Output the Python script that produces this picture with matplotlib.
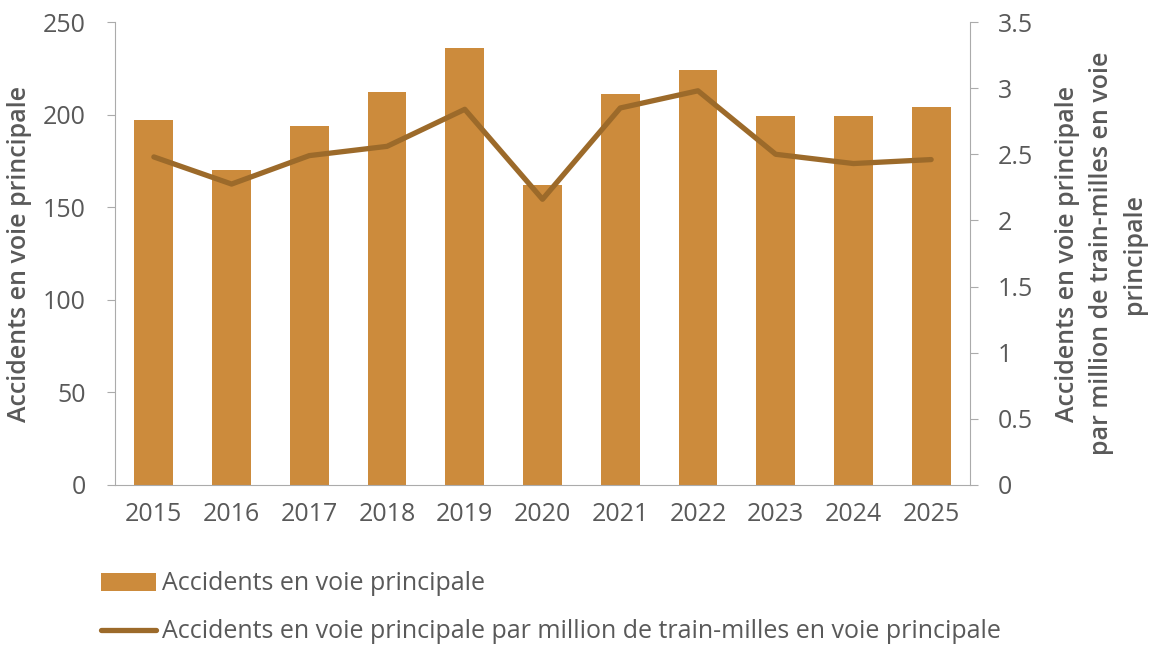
import matplotlib
matplotlib.use("Agg")
import matplotlib.pyplot as plt
from matplotlib.patches import Patch
from matplotlib.lines import Line2D

years = ["2015", "2016", "2017", "2018", "2019", "2020", "2021", "2022", "2023", "2024", "2025"]
accidents = [197, 170, 194, 212, 236, 162, 211, 224, 199, 199, 204]
rate = [2.48, 2.275, 2.49, 2.56, 2.84, 2.16, 2.85, 2.98, 2.50, 2.43, 2.46]

bar_color = "#CC8B3C"
line_color = "#9C6A2A"
text_color = "#595959"
axis_color = "#ABABAB"
fs = 18

plt.rcParams['font.family'] = ['Open Sans', 'DejaVu Sans']

fig = plt.figure(figsize=(11.53, 6.46), dpi=100)
ax = fig.add_axes([115/1153, 1 - 485/646, (970 - 115)/1153, (485 - 22)/646])
ax2 = ax.twinx()

x = list(range(len(years)))
ax.bar(x, accidents, width=0.5, color=bar_color, zorder=2)
ax2.plot(x, rate, color=line_color, linewidth=3.8, solid_capstyle='round', solid_joinstyle='round', zorder=3)

ax.set_xlim(-0.5, len(years) - 0.5)
ax.set_ylim(0, 250)
ax.set_yticks([0, 50, 100, 150, 200, 250])
ax2.set_ylim(0, 3.5)
ax2.set_yticks([0, 0.5, 1, 1.5, 2, 2.5, 3, 3.5])
ax2.set_yticklabels(["0", "0.5", "1", "1.5", "2", "2.5", "3", "3.5"])
ax.set_xticks(x)
ax.set_xticklabels(years)

for a in (ax, ax2):
    for s in a.spines.values():
        s.set_visible(False)
    a.tick_params(colors=text_color, labelsize=fs, length=0)
ax.spines['left'].set_visible(True)
ax.spines['left'].set_color(axis_color)
ax.spines['bottom'].set_visible(True)
ax.spines['bottom'].set_color(axis_color)
ax2.spines['right'].set_visible(True)
ax2.spines['right'].set_color(axis_color)
ax.tick_params(axis='y', length=6, color=axis_color, pad=15)
ax2.tick_params(axis='y', length=6, color=axis_color, pad=14)
ax.tick_params(axis='x', pad=12)

ax.set_ylabel("Accidents en voie principale", color=text_color, fontsize=fs,
              fontweight='semibold', labelpad=8)
ax2.set_ylabel("Accidents en voie principale\npar million de train-milles en voie\nprincipale",
               color=text_color, fontsize=fs, fontweight='semibold', labelpad=16,
               rotation=90, linespacing=1.45)

handles = [Patch(facecolor=bar_color, edgecolor='none'),
           Line2D([0], [0], color=line_color, linewidth=3.8, solid_capstyle='round')]
labels = ["Accidents en voie principale",
          "Accidents en voie principale par million de train-milles en voie principale"]
fig.legend(handles, labels, loc='upper left', bbox_to_anchor=(78/1153, 1 - 549/646),
           frameon=False, fontsize=fs, labelcolor=text_color, handlelength=2.2,
           handleheight=0.7, handletextpad=0.25, labelspacing=0.92)

fig.savefig("out.png", dpi=100)
